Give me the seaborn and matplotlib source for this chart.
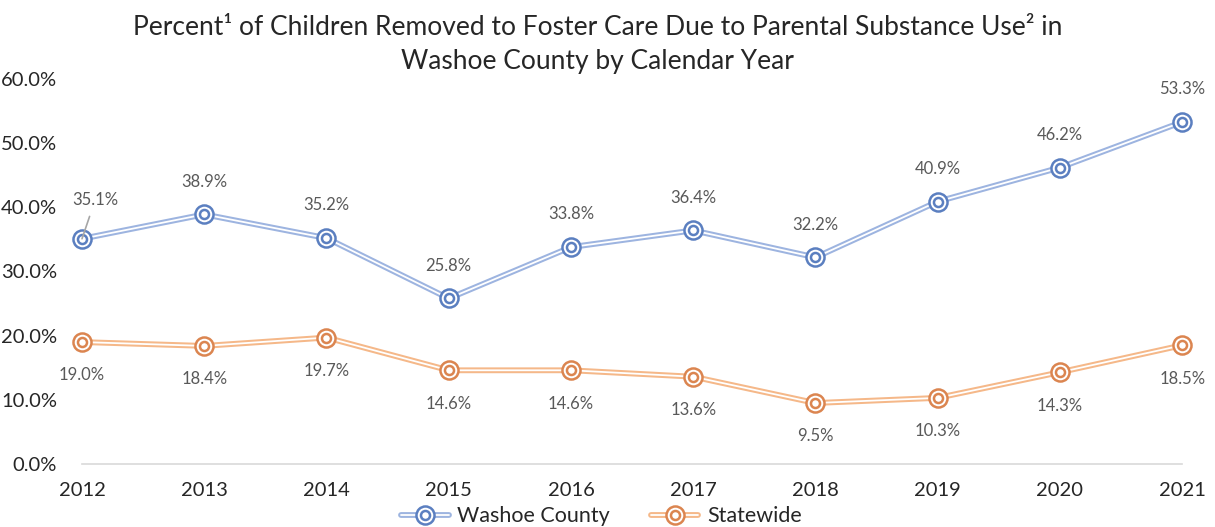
import matplotlib
matplotlib.use("Agg")
import pandas as pd
import seaborn as sns
from matplotlib import pyplot as plt
from matplotlib.lines import Line2D
from matplotlib.legend_handler import HandlerTuple

years = [2012, 2013, 2014, 2015, 2016, 2017, 2018, 2019, 2020, 2021]
washoe = [35.1, 38.9, 35.2, 25.8, 33.8, 36.4, 32.2, 40.9, 46.2, 53.3]
statewide = [19.0, 18.4, 19.7, 14.6, 14.6, 13.6, 9.5, 10.3, 14.3, 18.5]
series_names = ["Washoe County", "Statewide"]
y_ticks = [0, 10, 20, 30, 40, 50, 60]

line_colors = {"Washoe County": "#9DB4E0", "Statewide": "#F5B889"}
mark_colors = {"Washoe County": "#5B7FC0", "Statewide": "#DB8550"}

df = pd.DataFrame({
    "year": years * 2,
    "value": washoe + statewide,
    "series": [series_names[0]] * len(years) + [series_names[1]] * len(years),
})

sns.set_style("white")
plt.rcParams["font.family"] = ["Lato", "DejaVu Sans"]

fig = plt.figure(figsize=(12.15, 5.27), dpi=100)
ax = fig.add_axes([0.0675, 0.1196, 0.9055, 0.7305])

# double line: thick coloured line with a thin white stripe on top
sns.lineplot(data=df, x="year", y="value", hue="series", palette=line_colors,
             lw=4.2, ax=ax, legend=False, clip_on=False)
sns.lineplot(data=df, x="year", y="value", hue="series",
             palette={k: "white" for k in series_names},
             lw=1.3, ax=ax, legend=False, clip_on=False)

for name, vals in zip(series_names, [washoe, statewide]):
    c = mark_colors[name]
    ax.plot(years, vals, ls="none", marker="o", ms=13, mfc="white", mec=c,
            mew=1.8, clip_on=False, zorder=5)
    ax.plot(years, vals, ls="none", marker="o", ms=6.5, mfc="white", mec=c,
            mew=1.8, clip_on=False, zorder=6)

label_kw = dict(ha="center", va="center", fontsize=12, color="#595959")
for i, (x, v) in enumerate(zip(years, washoe)):
    if i == 0:
        # first label sits off to the side with a leader line
        ax.annotate(f"{v:.1f}%", xy=(x, v), xytext=(9.5, 28),
                    textcoords="offset points", zorder=7, **label_kw,
                    arrowprops=dict(arrowstyle="-", color="#A6A6A6", lw=1.2,
                                    shrinkA=4, shrinkB=0))
    else:
        ax.annotate(f"{v:.1f}%", xy=(x, v), xytext=(0, 23.5),
                    textcoords="offset points", **label_kw)
for x, v in zip(years, statewide):
    ax.annotate(f"{v:.1f}%", xy=(x, v), xytext=(0, -24),
                textcoords="offset points", **label_kw)

ax.set_xlim(years[0], years[-1])
ax.set_ylim(0, 60)
ax.set_xticks(years)
ax.set_xticklabels([str(y) for y in years], fontsize=14.5)
ax.set_yticks(y_ticks)
ax.set_yticklabels([f"{t:.1f}%" for t in y_ticks], fontsize=14.5)
ax.tick_params(axis="both", length=0)
ax.tick_params(axis="x", pad=13)
ax.tick_params(axis="y", pad=18)
ax.set_xlabel("")
ax.set_ylabel("")
for side in ["top", "right", "left"]:
    ax.spines[side].set_visible(False)
ax.spines["bottom"].set_color("#D9D9D9")
ax.spines["bottom"].set_linewidth(1.2)

fig.text(0.492, 0.948, "Percent\u00b9 of Children Removed to Foster Care Due to Parental Substance Use\u00b2 in",
         ha="center", va="center", fontsize=19, color="#262626")
fig.text(0.492, 0.884, "Washoe County by Calendar Year",
         ha="center", va="center", fontsize=19, color="#262626")

handles = []
for name in series_names:
    h = (Line2D([], [], color=line_colors[name], lw=4.2),
         Line2D([], [], color="white", lw=1.3),
         Line2D([], [], ls="none", marker="o", ms=13, mfc="white",
                mec=mark_colors[name], mew=1.8),
         Line2D([], [], ls="none", marker="o", ms=6.5, mfc="white",
                mec=mark_colors[name], mew=1.8))
    handles.append(h)
fig.legend(handles, series_names, handler_map={tuple: HandlerTuple(ndivide=1)},
           loc="center", bbox_to_anchor=(0.495, 0.02), ncol=2, frameon=False,
           fontsize=15.5, handlelength=2.2, handletextpad=0.4, columnspacing=1.9)

fig.savefig("out.png", dpi=100)
